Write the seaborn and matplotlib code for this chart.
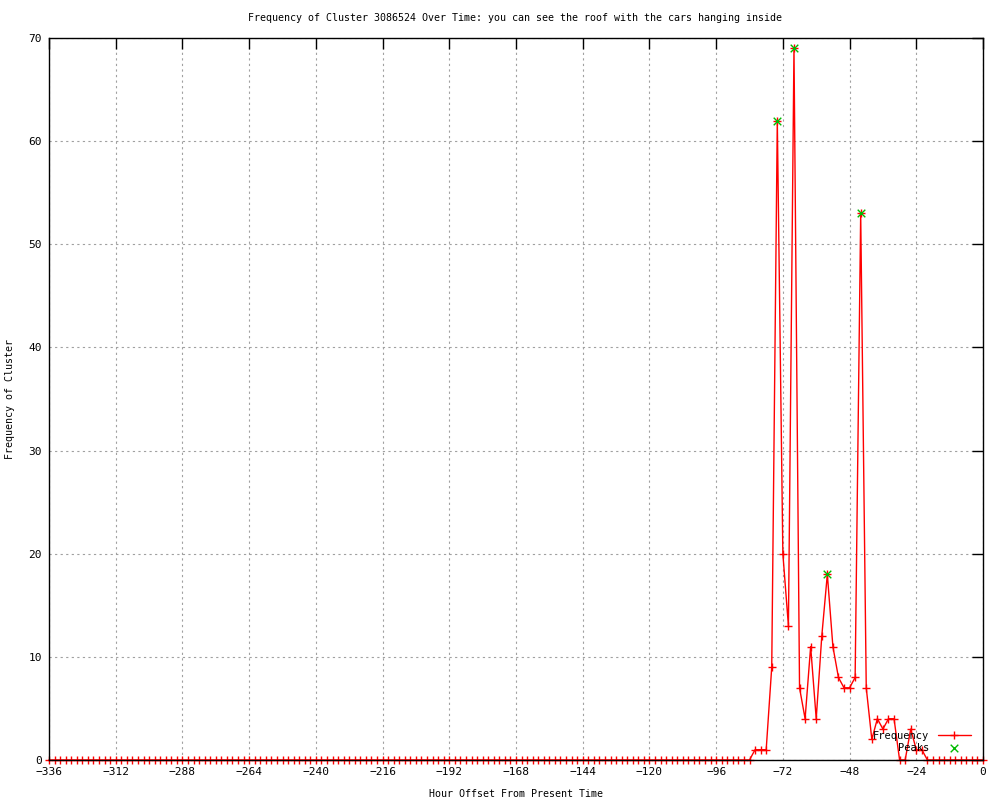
import numpy as np
import pandas as pd
import seaborn as sns
import matplotlib
matplotlib.use("Agg")
import matplotlib.pyplot as plt

# hours before present, one reading every 2 hours
hours = np.arange(-336, 1, 2)

# frequency readings (left quiet stretch, active window -84..-20, right quiet stretch)
freq_before = [0] * 126
freq_active = [0, 1, 1, 1, 9, 62, 20, 13, 69, 7, 4, 11, 4, 12, 18, 11, 8,
               7, 7, 8, 53, 7, 2, 4, 3, 4, 4, 0, 0, 3, 1, 1, 0]
freq_after = [0] * 10
frequency = freq_before + freq_active + freq_after

peak_hours = [-74, -68, -56, -44]
peak_values = [62, 69, 18, 53]

x_ticks = list(range(-336, 1, 24))
y_ticks = list(range(0, 71, 10))

title = "Frequency of Cluster 3086524 Over Time: you can see the roof with the cars hanging inside"

df = pd.DataFrame({"hour": hours, "freq": frequency})
peaks = pd.DataFrame({"hour": peak_hours, "freq": peak_values})

sns.set_style("white")
plt.rcParams["font.family"] = ["DejaVu Sans Mono", "DejaVu Sans"]
plt.rcParams["text.color"] = "black"
plt.rcParams["axes.labelcolor"] = "black"
plt.rcParams["xtick.color"] = "black"
plt.rcParams["ytick.color"] = "black"

fig = plt.figure(figsize=(10, 8), dpi=100)
ax = fig.add_axes([0.049, 0.05, 0.934, 0.9025])

sns.lineplot(data=df, x="hour", y="freq", ax=ax, color="red", linewidth=1,
             marker="+", markersize=6, markeredgewidth=1,
             markeredgecolor="red", label="Frequency", clip_on=False)
sns.scatterplot(data=peaks, x="hour", y="freq", ax=ax, color="#00bb00",
                marker="x", s=30, linewidth=1, label="Peaks", zorder=5)

ax.set_xlim(-336, 0)
ax.set_ylim(0, 70)
ax.set_xticks(x_ticks)
ax.set_yticks(y_ticks)
ax.tick_params(direction="in", length=8, width=1, top=True, right=True,
               labelsize=8, pad=5)
ax.grid(True, linestyle=(0, (2, 3)), color="#a0a0a0", linewidth=0.8)
for s in ax.spines.values():
    s.set_linewidth(1)
    s.set_color("black")

ax.set_xlabel("Hour Offset From Present Time", fontsize=7.2, labelpad=9)
ax.set_ylabel("Frequency of Cluster", fontsize=7.2, labelpad=10)
fig.suptitle(title, fontsize=7.2, y=0.977, x=0.515, va="center")

ax.legend(loc="lower right", bbox_to_anchor=(0.995, 0.0), frameon=False,
          markerfirst=False, fontsize=7.5, handlelength=3.2, labelspacing=0.2,
          borderaxespad=0.3)

fig.savefig("out.png", dpi=100)
